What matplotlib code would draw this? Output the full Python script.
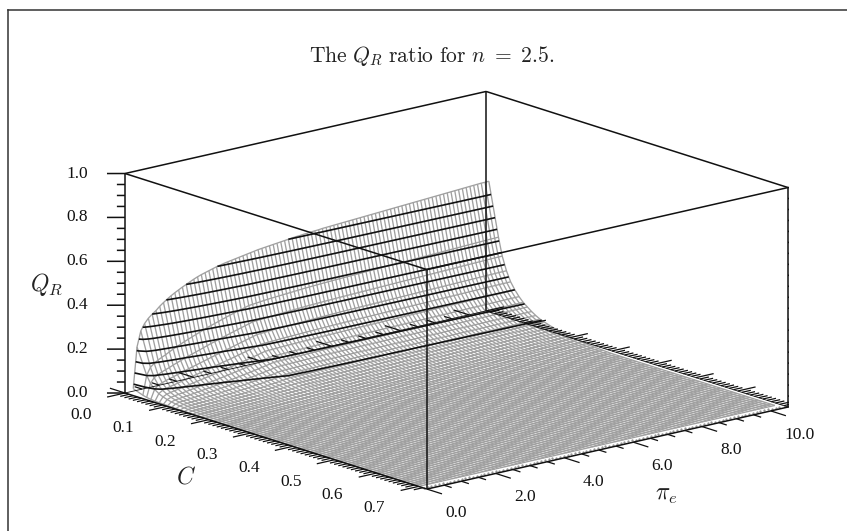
import numpy as np
import matplotlib
matplotlib.use('Agg')
import matplotlib.pyplot as plt
from matplotlib.lines import Line2D
from mpl_toolkits.mplot3d import proj3d

plt.rcParams['font.family'] = ['Liberation Serif', 'DejaVu Serif']
plt.rcParams['mathtext.fontset'] = 'cm'

W, H = 847, 531

# Q_R read along the C=0.018 edge of the mesh, one value per pi_e grid line
qr_edge = [.03, .216, .285, .315, .335, .35, .362, .378, .391, .403, .414, .424, .433,
           .442, .45, .458, .466, .473, .479, .484, .489, .494, .499, .503, .507, .51,
           .513, .516, .519, .522, .525, .528, .531, .534, .536, .538, .54, .542, .544,
           .546, .548, .55, .552, .554, .555, .557, .558, .56, .561, .562, .564, .565,
           .566, .567, .568, .569, .57, .571, .572, .573, .574, .575, .576, .577, .578,
           .579, .58, .581, .582, .583, .584, .585, .586, .587, .588, .589, .59, .591,
           .592, .593, .594, .595, .596, .597, .598, .599, .6, .601, .602, .603, .604,
           .605, .606, .606, .607]
# C grid lines and how far Q_R has dropped on each, relative to the edge
c_rows = [.018, .041, .05, .06, .07, .08, .09, .10, .11, .12, .13, .14, .15, .16, .17,
          .18, .19, .20, .21, .22, .23, .24, .25, .26, .27, .28, .29, .30]
c_drop = [1, .603, .47, .37, .297, .247, .206, .173, .148, .124, .104, .087, .076, .066,
          .056, .048, .04, .033, .027, .022, .018, .015, .012, .009, .0066, .005, .0033,
          .0017]
# the drop comes on faster at small pi_e (first columns only)
steeper = [1.5, 1.5, 1.5, 1.5, 1.48, 1.46, 1.44, 1.42, 1.4, 1.38, 1.36, 1.34, 1.32, 1.3,
           1.28, 1.26, 1.24, 1.22, 1.2, 1.18, 1.16, 1.14, 1.12, 1.1, 1.08, 1.06, 1.04, 1.02]
c_flat = np.arange(.31, .705, .01)  # surface lies on the floor out here

levels = [.05, .10, .15, .20, .25, .30, .35, .40, .45, .50, .55]
qr_ticks = [0.0, 0.2, 0.4, 0.6, 0.8, 1.0]
qr_minor = np.arange(0, 1.01, .05)
c_ticks = [0.0, 0.1, 0.2, 0.3, 0.4, 0.5, 0.6, 0.7]
c_minor = np.arange(0, .715, .01)
pi_ticks = [0.0, 2.0, 4.0, 6.0, 8.0, 10.0]
pi_minor = np.arange(0, 10.1, .5)

cmax, pimax = .72, 10.5

pi_grid = .02 + .11*np.arange(len(qr_edge))
c_grid = np.concatenate([c_rows, c_flat])
drop = np.concatenate([c_drop, np.zeros(len(c_flat))])
power = np.ones(len(qr_edge))
power[:len(steeper)] = steeper
P, C = np.meshgrid(pi_grid, c_grid)
Z = np.array(qr_edge)*drop[:, None]**power

fig = plt.figure(figsize=(W/100, H/100), dpi=100)
ax = fig.add_axes([0, 0, 1, 1], projection='3d', computed_zorder=False)
ax.set_proj_type('ortho')
ax.view_init(elev=15.6, azim=-40.2)
ax.set_box_aspect((468, 473, 228))
ax.set_xlim(0, cmax)
ax.set_ylim(0, pimax)
ax.set_zlim(0, 1)
ax.set_axis_off()

ink = '#111111'
ax.plot_wireframe(C, P, Z, rstride=1, cstride=1, color='#a0a0a0', linewidth=.95, zorder=1)
ax.contour(C, P, Z, levels=levels, colors=ink, linewidths=1.2, zorder=2)
# the dotted strip in front of the last C line
ax.plot(np.full(len(pi_grid), .711), pi_grid, np.zeros(len(pi_grid)), ls='none', marker='.',
        ms=1.2, color='#8a8a8a', zorder=2)


def seg(c, p, z, lw=1.1):
    ax.plot(c, p, z, color=ink, linewidth=lw, zorder=3, solid_capstyle='butt')


# box
for z in (0, 1):
    seg([0, cmax], [0, 0], [z, z])
    seg([cmax, cmax], [0, pimax], [z, z])
    seg([cmax, 0], [pimax, pimax], [z, z], lw=1.1 if z else .6)
    seg([0, 0], [pimax, 0], [z, z], lw=1.1 if z else .6)
for c, p in [(0, 0), (cmax, 0), (cmax, pimax), (0, pimax)]:
    seg([c, c], [p, p], [0, 1])

# qr ticks run flat on the page, so they need a mix of C and pi
dc_flat, dp_flat = -.0178, -.307
for q in qr_minor:
    f = 1.0 if min(abs(q - t) for t in qr_ticks) < 1e-6 else .45
    seg([0, dc_flat*f], [0, dp_flat*f], [q, q])
    seg([cmax, cmax - dc_flat*f], [pimax, pimax - dp_flat*f], [q, q])
for c in c_minor:
    f = 1.0 if min(abs(c - t) for t in c_ticks) < 1e-6 else .5
    seg([c, c], [0, -.52*f], [0, 0], lw=.9)
    seg([c, c], [pimax, pimax + .52*f], [0, 0], lw=.9)
for p in pi_minor:
    f = 1.0 if min(abs(p - t) for t in pi_ticks) < 1e-6 else .5
    seg([cmax, cmax + .036*f], [p, p], [0, 0], lw=.9)
    seg([0, -.036*f], [p, p], [0, 0], lw=.9)

# fit the drawing box so two bottom corners land where they are in the chart
M = ax.get_proj()
ua, va_, _ = proj3d.proj_transform(0, 0, 0, M)
ub, vb, _ = proj3d.proj_transform(cmax, pimax, 0, M)
vl = ax.viewLim
S = (788 - 125)/((ub - ua)/(vl.x1 - vl.x0))
L = 125 - S*(ua - vl.x0)/(vl.x1 - vl.x0)
B = (H - 393) - S*(va_ - vl.y0)/(vl.y1 - vl.y0)
ax.set_position([L/W, B/H, S/W, S/H])


def label3d(c, p, q, s, ha='center'):
    u, v, _ = proj3d.proj_transform(c, p, q, M)
    x = L + S*(u - vl.x0)/(vl.x1 - vl.x0)
    y = B + S*(v - vl.y0)/(vl.y1 - vl.y0)
    fig.text(x/W, y/H, s, ha=ha, va='center', fontsize=12.5, color=ink)


for q in qr_ticks:
    label3d(-.0365, -.631, q, '%.1f' % q, ha='right')
for c in c_ticks:
    label3d(c, -1.28, -.055, '%.1f' % c)
for p in pi_ticks:
    label3d(cmax + .069, p, -.067, '%.1f' % p)

fig.text(432/W, 1 - 56/H, r'$\mathrm{The}\ Q_R\ \mathrm{ratio\ for}\ n\ =\ 2.5.$', ha='center', va='center',
         fontsize=15.5, color='#222222')
fig.text(47/W, 1 - 285/H, r'$Q_R$', ha='center', va='center', fontsize=17, color='#222222')
fig.text(186/W, 1 - 478/H, r'$C$', ha='center', va='center', fontsize=17, color='#222222')
fig.text(666/W, 1 - 495/H, r'$\pi_e$', ha='center', va='center', fontsize=17, color='#222222')

# frame of the page, top and left only
fig.add_artist(Line2D([8/W, 8/W], [0, 1 - 9.5/H], color='#333333', lw=1.1))
fig.add_artist(Line2D([8/W, 1], [1 - 9.5/H, 1 - 9.5/H], color='#333333', lw=1.1))

fig.savefig('out.png', dpi=100)
